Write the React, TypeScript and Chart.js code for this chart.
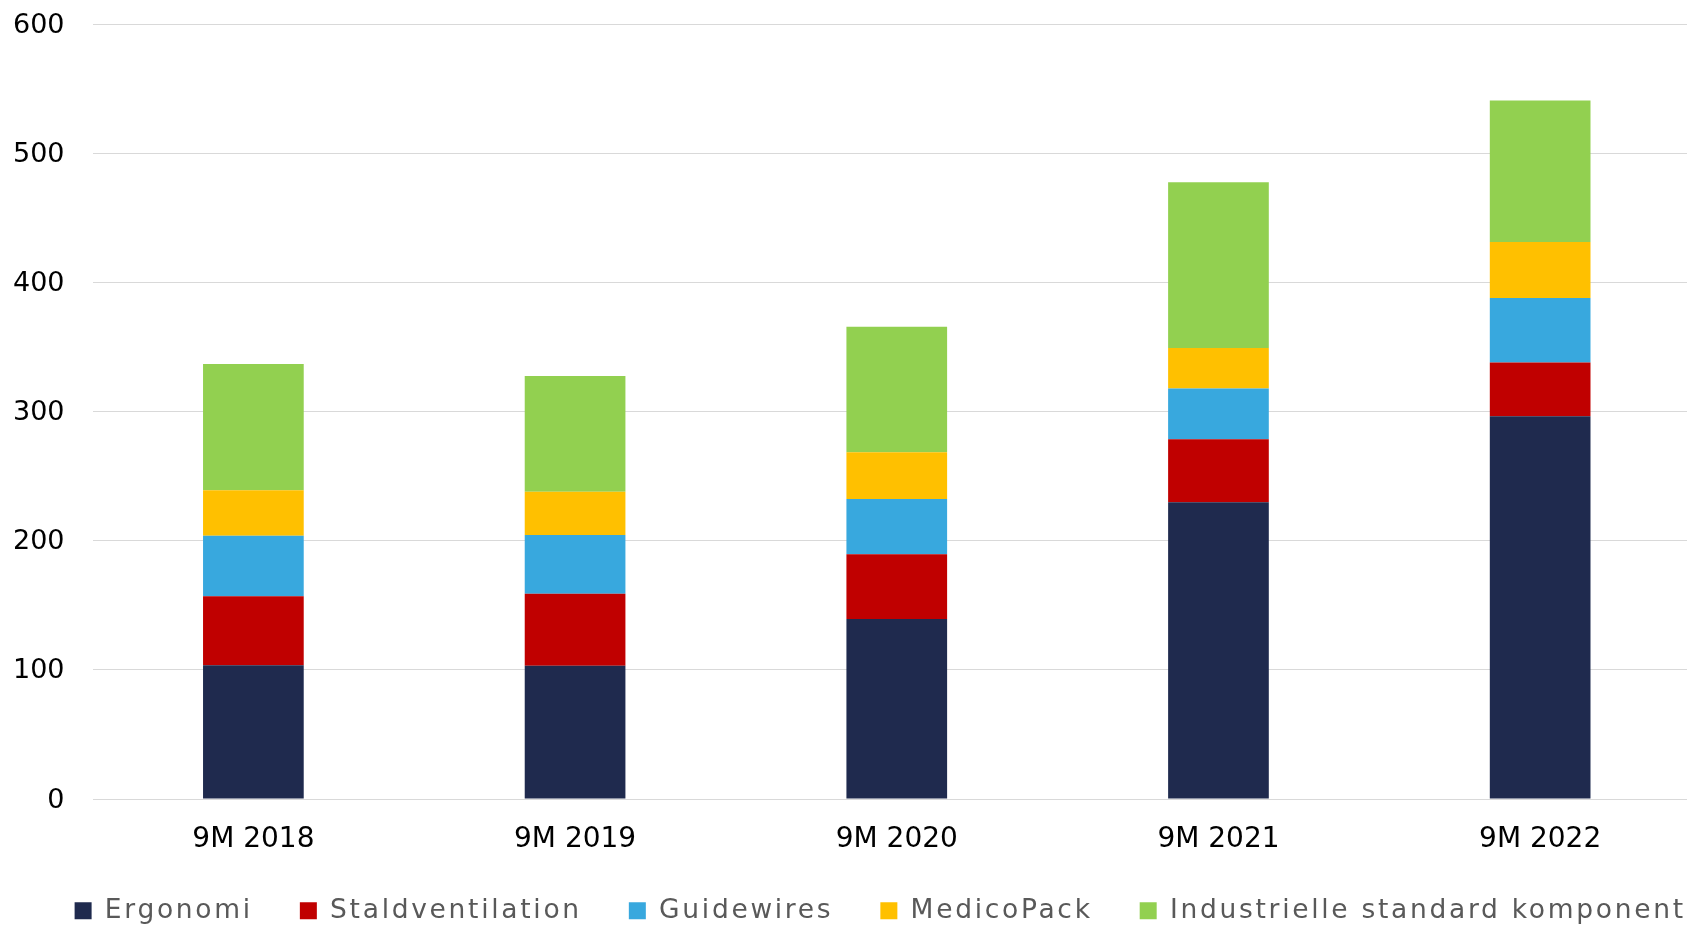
import React, { useEffect, useRef } from 'react';
import { Chart, registerables } from 'chart.js';

Chart.register(...registerables);

const categories = ['9M 2018', '9M 2019', '9M 2020', '9M 2021', '9M 2022'];
const seriesNames = ['Ergonomi', 'Staldventilation', 'Guidewires', 'MedicoPack', 'Industrielle standard komponenter'];
const ergonomi = [103.6, 103.1, 139.4, 229.8, 296.4];
const staldventilation = [53.3, 55.8, 50.1, 48.8, 41.6];
const guidewires = [47.0, 45.5, 42.8, 39.2, 49.9];
const medicoPack = [35.2, 33.4, 36.2, 31.3, 43.4];
const industrielle = [97.6, 89.6, 97.2, 128.4, 109.5];
const seriesColors = ['#1F2A4E', '#C00000', '#38A8DE', '#FFC000', '#92D050'];
const yMin = 0;
const yMax = 600;
const yStep = 100;

const CANVAS_W = 1780;
const CANVAS_H = 934;
const RIGHT_GAP = CANVAS_W - 1701;
const FONT = '"DejaVu Sans", Verdana, sans-serif';
const LEGEND_SPACING = '2.7px';
const Y_TICK_PAD = 28;

const legendSpacing = {
  id: 'legendSpacing',
  beforeLayout(chart: any) {
    const lg: any = chart.legend;
    if (lg && !lg.__patched) {
      lg.__patched = true;
      const fit = lg.fit.bind(lg);
      const draw = lg.draw.bind(lg);
      lg.fit = (...a: any[]) => {
        const c: any = chart.ctx;
        const prev = c.letterSpacing;
        c.letterSpacing = LEGEND_SPACING;
        const r = fit(...a);
        c.letterSpacing = prev || '0px';
        return r;
      };
      lg.draw = (...a: any[]) => {
        const c: any = chart.ctx;
        const prev = c.letterSpacing;
        c.letterSpacing = LEGEND_SPACING;
        const r = draw(...a);
        c.letterSpacing = prev || '0px';
        return r;
      };
    }
  },
};

export default function App() {
  const ref = useRef<HTMLCanvasElement | null>(null);

  useEffect(() => {
    if (!ref.current) return;
    const values = [ergonomi, staldventilation, guidewires, medicoPack, industrielle];
    const chart = new Chart(ref.current, {
      type: 'bar',
      data: {
        labels: categories,
        datasets: values.map((v, i) => ({
          label: seriesNames[i],
          data: v,
          backgroundColor: seriesColors[i],
          borderWidth: 0,
          categoryPercentage: 1,
          barPercentage: 0.313,
          yAxisID: 'y',
        })),
      },
      options: {
        responsive: false,
        animation: false,
        devicePixelRatio: 1,
        layout: { padding: { top: 0, left: 13, right: 0, bottom: 0 } },
        plugins: {
          tooltip: { enabled: false },
          legend: {
            position: 'bottom',
            align: 'center',
            labels: {
              boxWidth: 17,
              boxHeight: 17,
              padding: 47,
              color: '#595959',
              font: { family: FONT, size: 26.5 },
            },
          },
        },
        scales: {
          x: {
            stacked: true,
            grid: { display: false, drawTicks: false },
            border: { display: false },
            ticks: { color: '#000000', font: { family: FONT, size: 28 }, padding: 24, maxRotation: 0 },
            afterFit: (s: any) => { s.height = 51.5; s.paddingLeft = 0; s.paddingRight = 0; },
          },
          y: {
            stacked: true,
            min: yMin,
            max: yMax,
            grid: { color: '#D9D9D9', lineWidth: 1, drawTicks: false },
            border: { display: false },
            ticks: { stepSize: yStep, color: '#000000', font: { family: FONT, size: 27 }, padding: Y_TICK_PAD, labelOffset: 1.5 },
            afterFit: (s: any) => { s.width = s.width - Y_TICK_PAD; s.paddingTop = 24; s.paddingBottom = 0; },
          },
          yR: {
            position: 'right',
            display: true,
            grid: { display: false, drawTicks: false },
            border: { display: false },
            ticks: { display: false },
            afterFit: (s: any) => { s.width = RIGHT_GAP; s.paddingTop = 0; s.paddingBottom = 0; },
          },
        },
      },
      plugins: [legendSpacing],
    });
    return () => chart.destroy();
  }, []);

  return (
    <div style={{ position: 'absolute', left: 0, top: 0, width: 1687, height: 926, overflow: 'hidden', background: '#fff' }}>
      <canvas ref={ref} width={CANVAS_W} height={CANVAS_H} style={{ display: 'block', width: CANVAS_W, height: CANVAS_H }} />
    </div>
  );
}
